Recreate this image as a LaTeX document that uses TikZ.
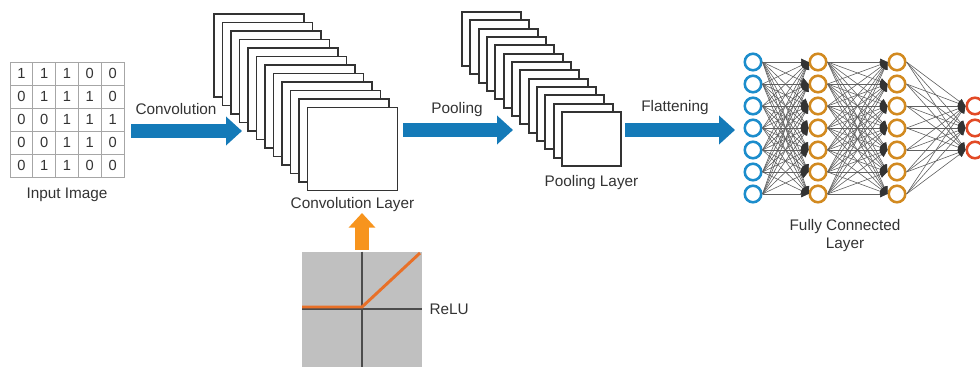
\documentclass[tikz,border=0pt]{standalone}
\usepackage{fontspec}
\setmainfont{Liberation Sans}
\usetikzlibrary{arrows.meta,
	positioning,
	calc}

\definecolor{flowblue}{RGB}{20,122,184}
\definecolor{inblue}{RGB}{28,141,204}
\definecolor{hidorange}{RGB}{210,138,32}
\definecolor{outred}{RGB}{226,74,38}
\definecolor{reluorange}{RGB}{232,112,40}
\definecolor{upamber}{RGB}{247,148,29}
\definecolor{relugray}{RGB}{192,192,192}

\tikzset{
	lbl/.style={font=\fontsize{11.5}{13.5}\selectfont, text=black!80, inner sep=1pt},
	cell/.style={draw=gray!70, line width=0.7pt, minimum width=17.1pt, minimum height=17.25pt, inner sep=0pt, font=\fontsize{11}{13}\selectfont, text=black!80},
	fmap/.style={draw=black!80, fill=white, line width=1.4pt, inner sep=0pt},
	flow/.style={line width=11pt, flowblue, -{Triangle[length=12pt, width=21pt]}},
	neuron/.style={circle, line width=1.9pt, fill=white, minimum size=12.4pt, inner sep=0pt},
	edge/.style={gray!75!black, line width=0.45pt, -{Triangle[length=5.5pt, width=5pt, color=black!80]}}
}

\begin{document}
\begin{tikzpicture}[x=0.75pt, y=-0.75pt]
	\useasboundingbox (0, 0) rectangle (980, 367);
	\foreach \row [count=\r] in {{1,1,1,0,0},{0,1,1,1,0},{0,0,1,1,1},{0,0,1,1,0},{0,1,1,0,0}}
		\foreach \v [count=\c] in \row
			\node[cell] (px\r\c) at (21.4+22.8*\c-22.8, 73.5+23*\r-23) {\v};
	\node[lbl, below=7pt of px53] (inlbl) {Input Image};

	\foreach \i in {0,...,11}
		\node[fmap, minimum width=67.5pt, minimum height=62.25pt] (conv\i) at (259+8.5*\i, 55.5+8.5*\i) {};
	\node[lbl, below=3pt of conv11] (convlbl) {Convolution Layer};

	\foreach \i in {0,...,12}
		\node[fmap, minimum width=44.25pt, minimum height=40.5pt] (pool\i) at (491.5+8.33*\i, 39+8.33*\i) {};
	\node[lbl, below=5pt of pool12] (poollbl) {Pooling Layer};

	\coordinate (convA) at (131, 131);
	\coordinate (convB) at (242, 131);
	\coordinate (poolA) at (403, 130);
	\coordinate (poolB) at (513, 130);
	\coordinate (flatA) at (625, 130);
	\coordinate (flatB) at (735, 130);
	\draw[flow] (convA) -- (convB);
	\draw[flow] (poolA) -- (poolB);
	\draw[flow] (flatA) -- (flatB);
	\node[lbl] (convtxt) at (176, 109) {Convolution};
	\node[lbl] (pooltxt) at (457, 110) {Pooling};
	\node[lbl] (flattxt) at (675, 108) {Flattening};

	\node[fill=relugray, minimum width=90pt, minimum height=90pt, inner sep=0pt] (relu) at (362, 312) {};
	\draw[black!70, line width=1.3pt] (relu.north) -- (relu.south);
	\draw[black!70, line width=1.3pt] (302, 309) -- (422, 309);
	\draw[reluorange, line width=2.2pt] (302, 307) -- (362, 307) -- (420, 253);
	\node[lbl, anchor=west] (relulbl) at (428, 309) {ReLU};
	\coordinate (relutip) at (362, 213);
	\draw[line width=10.5pt, upamber, -{Triangle[length=11pt, width=19.5pt]}] ([yshift=1.5pt]relu.north) -- (relutip);

	\foreach \i in {0,...,6} {
		\node[neuron, draw=inblue] (in\i) at (753, 62+22*\i) {};
		\node[neuron, draw=hidorange] (hA\i) at (818, 62+22*\i) {};
		\node[neuron, draw=hidorange] (hB\i) at (897, 62+22*\i) {};
	}
	\foreach \i in {2,3,4}
		\node[neuron, draw=outred] (out\i) at (975, 62+22*\i) {};
	\foreach \i in {0,...,6}
		\foreach \j in {0,...,6} {
			\draw[edge] (in\i.east) -- (hA\j.west);
			\draw[edge] (hA\i.east) -- (hB\j.west);
		}
	\foreach \i in {0,...,6}
		\foreach \j in {2,3,4}
			\draw[edge] (hB\i.east) -- (out\j.west);
	\node[lbl, align=center] (fclbl) at (845, 236) {Fully Connected\\Layer};
\end{tikzpicture}
\end{document}
